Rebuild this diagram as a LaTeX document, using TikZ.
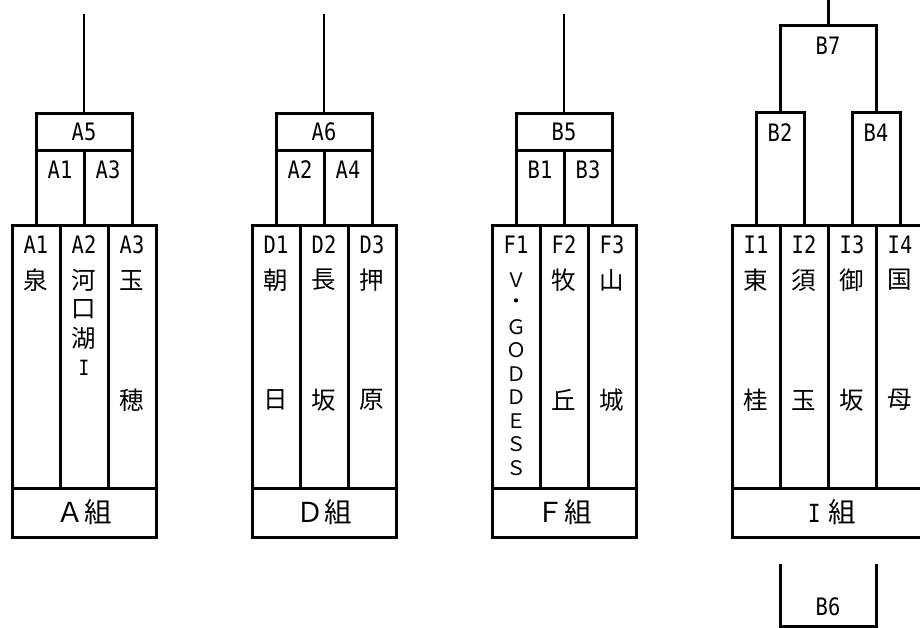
\documentclass[tikz,border=0pt]{standalone}
\usepackage{fontspec}
\newfontfamily\jp{Noto Sans CJK JP}
\newfontfamily\latf[FakeStretch=0.85]{DejaVu Sans Mono}
\begin{document}
\begin{tikzpicture}[x=1pt,y=-1pt,
  stem/.style={line width=2.2pt},
  ln/.style={line width=3pt},
  bx/.style={draw, line width=3pt, inner sep=0pt, outer sep=0pt, anchor=north west},
  colbox/.style={bx, minimum width=48pt, minimum height=262pt},
  grp3/.style={bx, minimum width=144pt, minimum height=49pt},
  grp4/.style={bx, minimum width=192pt, minimum height=49pt},
  topbox/.style={bx, minimum width=96pt, minimum height=37pt},
  subbox/.style={bx, minimum width=48pt, minimum height=75pt},
  bbox/.style={bx, minimum width=48pt, minimum height=113pt},
  lat/.style={font=\latf\fontsize{24}{24}\selectfont, inner sep=0pt},
  kj/.style={font=\jp\fontsize{24.5}{24.5}\selectfont, inner sep=0pt},
  fw/.style={font=\jp\fontsize{20}{20}\selectfont, inner sep=0pt},
  gl/.style={font=\jp\fontsize{27.5}{27.5}\selectfont, inner sep=0pt},
]
\useasboundingbox (0,0) rectangle (920,628);
\clip (0,0) rectangle (920,628);

% ---------------- Group A ----------------
\node[colbox] (ca1) at (12,226) {};
\node[colbox] (ca2) at (60,226) {};
\node[colbox] (ca3) at (108,226) {};
\node[grp3] (ga) at (12,488) {};
\node[gl] (gal) at (84,512) {Ａ組};
\node[topbox] (a5) at (36,114) {};
\node[subbox] (a5l) at (36,151) {};
\node[subbox] (a5r) at (84,151) {};
\coordinate (atop) at (84,14);
\draw[stem] (atop) -- (a5.north);
\node[lat] (ta5) at (84,132) {A5};
\node[lat] (ta5l) at (60,170) {A1};
\node[lat] (ta5r) at (108,170) {A3};
\node[lat] (la1) at (36,245) {A1};
\node[lat] (la2) at (84,245) {A2};
\node[lat] (la3) at (132,245) {A3};
\node[kj] (ka1) at (36,280) {泉};
\foreach \c [count=\i from 0] in {河,口,湖}
  \node[kj] (ka2\i) at (84,280+29.3*\i) {\c};
\node[lat, font=\latf\fontsize{21}{21}\selectfont] (ka23) at (84,368) {I};
\node[kj] (ka3a) at (132,280) {玉};
\node[kj] (ka3b) at (132,400) {穂};

% ---------------- Group D ----------------
\node[colbox] (cd1) at (252,226) {};
\node[colbox] (cd2) at (300,226) {};
\node[colbox] (cd3) at (348,226) {};
\node[grp3] (gd) at (252,488) {};
\node[gl] (gdl) at (324,512) {Ｄ組};
\node[topbox] (a6) at (276,114) {};
\node[subbox] (a6l) at (276,151) {};
\node[subbox] (a6r) at (324,151) {};
\coordinate (dtop) at (324,14);
\draw[stem] (dtop) -- (a6.north);
\node[lat] (ta6) at (324,132) {A6};
\node[lat] (ta6l) at (300,170) {A2};
\node[lat] (ta6r) at (348,170) {A4};
\node[lat] (ld1) at (276,245) {D1};
\node[lat] (ld2) at (324,245) {D2};
\node[lat] (ld3) at (372,245) {D3};
\node[kj] (kd1a) at (276,280) {朝};
\node[kj] (kd1b) at (276,400) {日};
\node[kj] (kd2a) at (324,280) {長};
\node[kj] (kd2b) at (324,400) {坂};
\node[kj] (kd3a) at (372,280) {押};
\node[kj] (kd3b) at (372,400) {原};

% ---------------- Group F ----------------
\node[colbox] (cf1) at (492,226) {};
\node[colbox] (cf2) at (540,226) {};
\node[colbox] (cf3) at (588,226) {};
\node[grp3] (gf) at (492,488) {};
\node[gl] (gfl) at (564,512) {Ｆ組};
\node[topbox] (b5) at (516,114) {};
\node[subbox] (b5l) at (516,151) {};
\node[subbox] (b5r) at (564,151) {};
\coordinate (ftop) at (564,14);
\draw[stem] (ftop) -- (b5.north);
\node[lat] (tb5) at (564,132) {B5};
\node[lat] (tb5l) at (540,170) {B1};
\node[lat] (tb5r) at (588,170) {B3};
\node[lat] (lf1) at (516,245) {F1};
\node[lat] (lf2) at (564,245) {F2};
\node[lat] (lf3) at (612,245) {F3};
\foreach \c [count=\i from 0] in {Ｖ,・,Ｇ,Ｏ,Ｄ,Ｄ,Ｅ,Ｓ,Ｓ}
  \node[fw] (kf1\i) at (516,280+23.5*\i) {\c};
\node[kj] (kf2a) at (564,280) {牧};
\node[kj] (kf2b) at (564,400) {丘};
\node[kj] (kf3a) at (612,280) {山};
\node[kj] (kf3b) at (612,400) {城};

% ---------------- Group I ----------------
\node[colbox] (ci1) at (732,226) {};
\node[colbox] (ci2) at (780,226) {};
\node[colbox] (ci3) at (828,226) {};
\node[colbox] (ci4) at (876,226) {};
\node[grp4] (gi) at (732,488) {};
\node[gl] (gil) at (828,512) {\makebox[27.5pt][c]{\latf\fontsize{25}{25}\selectfont I}組};
\node[bbox] (b2) at (756,113) {};
\node[bbox] (b4) at (852,113) {};
\coordinate (b7c) at (828,26);
\coordinate (itop) at (828,0);
\draw[ln] (b2.north) |- (b7c) -| (b4.north);
\draw[ln] (itop) -- (b7c);
\node[lat] (tb7) at (828,46) {B7};
\node[lat] (tb2) at (780,133) {B2};
\node[lat] (tb4) at (876,133) {B4};
\node[lat] (li1) at (756,245) {I1};
\node[lat] (li2) at (804,245) {I2};
\node[lat] (li3) at (852,245) {I3};
\node[lat] (li4) at (900,245) {I4};
\node[kj] (ki1a) at (756,280) {東};
\node[kj] (ki1b) at (756,400) {桂};
\node[kj] (ki2a) at (804,280) {須};
\node[kj] (ki2b) at (804,400) {玉};
\node[kj] (ki3a) at (852,280) {御};
\node[kj] (ki3b) at (852,400) {坂};
\node[kj] (ki4a) at (900,280) {国};
\node[kj] (ki4b) at (900,400) {母};

% ---------------- B6 ----------------
\coordinate (b6l) at (780,564);
\coordinate (b6r) at (876,564);
\coordinate (b6b) at (828,626);
\draw[ln] (b6l) |- (b6b) -| (b6r);
\node[lat] (tb6) at (828,607) {B6};
\end{tikzpicture}
\end{document}
